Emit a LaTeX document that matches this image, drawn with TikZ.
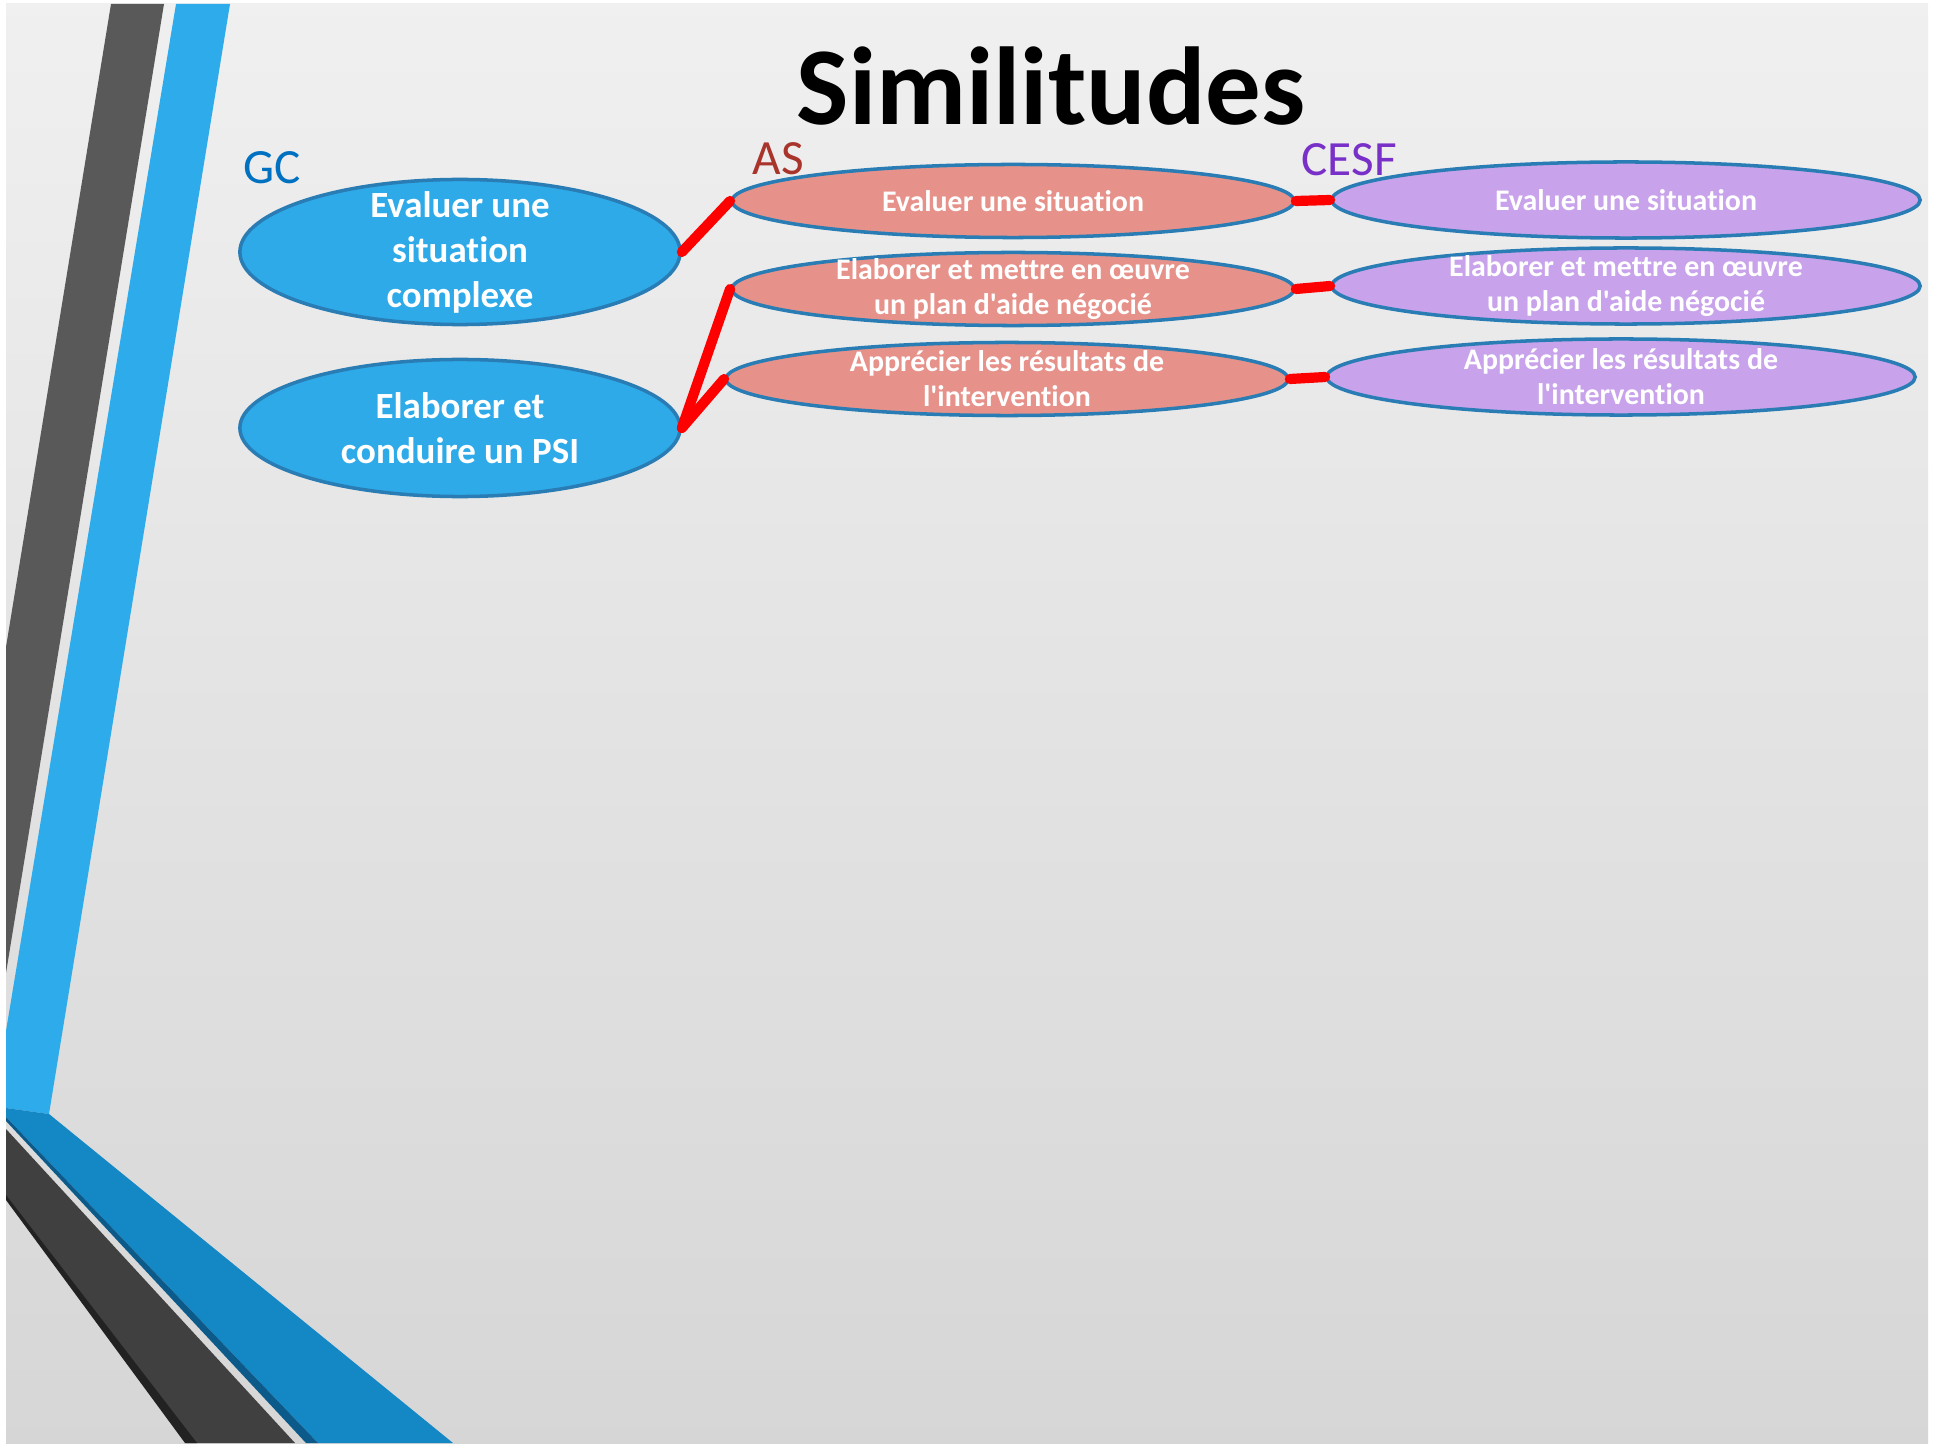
\documentclass[tikz,border=0pt]{standalone}
\usepackage{fontspec}
\setmainfont{Carlito}[Ligatures={TeXOff,NoCommon}]
\usepackage{tikz}
\usetikzlibrary{shapes.geometric,positioning}

\definecolor{gcblue}{RGB}{46,170,233}
\definecolor{rimblue}{RGB}{41,125,180}
\definecolor{assalmon}{RGB}{230,146,138}
\definecolor{cesflilac}{RGB}{200,162,234}
\definecolor{gclabel}{RGB}{0,112,192}
\definecolor{aslabel}{RGB}{169,52,43}
\definecolor{cesflabel}{RGB}{120,48,200}
\definecolor{stripegray}{RGB}{89,89,89}
\definecolor{stripeblue}{RGB}{46,171,234}
\definecolor{bandblue}{RGB}{20,135,197}
\definecolor{bandshade}{RGB}{12,90,138}
\definecolor{banddark}{RGB}{64,64,64}
\definecolor{bandblack}{RGB}{34,34,34}

\begin{document}
\begin{tikzpicture}[x=0.01cm, y=-0.01cm,
    gcbox/.style={ellipse, draw=rimblue, line width=1pt, fill=gcblue,
        minimum width=4.4cm, minimum height=1.45cm, inner sep=0pt},
    asbox/.style={ellipse, draw=rimblue, line width=1pt, fill=assalmon,
        minimum width=5.62cm, minimum height=0.73cm, inner sep=0pt},
    cesfbox/.style={ellipse, draw=rimblue, line width=1pt, fill=cesflilac,
        minimum width=5.88cm, minimum height=0.76cm, inner sep=0pt},
    gctext/.style={text=white, align=center, inner sep=0pt,
        font=\bfseries\fontsize{10.5}{12.8}\selectfont},
    smalltext/.style={text=white, align=center, inner sep=0pt,
        font=\bfseries\fontsize{8.5}{10}\selectfont},
    grouplabel/.style={anchor=base west, inner sep=0pt,
        font=\fontsize{14}{16}\selectfont},
    link/.style={red, line width=2.9pt, line cap=round}]
    \useasboundingbox (0,0) rectangle (1933,1446);
    \fill[white] (0,0) rectangle (1933,1446);
    \shade[top color=black!6, middle color=black!3, bottom color=black!16] (6,4) rectangle (1928,1443);

    % left stripes
    \fill[stripegray] (111,4) -- (164,4) -- (6,973) -- (6,647) -- cycle;
    \fill[stripeblue] (176,4) -- (230,4) -- (49,1114) -- (6,1108) -- (6,1031) -- cycle;
    \fill[bandblue] (6,1108) -- (49,1114) -- (453,1443) -- (318,1443) -- (6,1117) -- cycle;
    \fill[bandshade] (6,1117) -- (318,1443) -- (306,1443) -- (6,1121) -- cycle;
    \fill[banddark] (6,1129) -- (295,1443) -- (186,1443) -- (6,1199) -- cycle;
    \fill[bandblack] (6,1195) -- (197,1443) -- (185,1443) -- (6,1200) -- cycle;

    \node[font=\bfseries\fontsize{31.5}{36}\selectfont, anchor=base, inner sep=0pt] (title) at (1051,125) {Similitudes};

    \node[grouplabel, text=gclabel] (gclab) at (243,184) {GC};
    \node[grouplabel, text=aslabel] (aslab) at (752,175) {AS};
    \node[grouplabel, text=cesflabel] (cesflab) at (1301,176) {CESF};

    % GC
    \node[gcbox, label={[gctext]center:{Evaluer une\\situation\\complexe}}] (gc1) at (460,252) {};
    \node[gcbox, minimum height=1.37cm, label={[gctext]center:{Elaborer et\\conduire un PSI}}] (gc2) at (460,428) {};

    % AS
    \node[asbox, label={[smalltext]center:{Evaluer une situation}}] (as1) at (1013,201) {};
    \node[asbox, label={[smalltext]center:{Elaborer et mettre en œuvre\\un plan d'aide négocié}}] (as2) at (1013,289) {};
    \node[asbox, label={[smalltext]center:{Apprécier les résultats de\\l'intervention}}] (as3) at (1007,379) {};

    % CESF
    \node[cesfbox, label={[smalltext]center:{Evaluer une situation}}] (cesf1) at (1626,200) {};
    \node[cesfbox, label={[smalltext]center:{Elaborer et mettre en œuvre\\un plan d'aide négocié}}] (cesf2) at (1626,286) {};
    \node[cesfbox, label={[smalltext]center:{Apprécier les résultats de\\l'intervention}}] (cesf3) at (1621,377) {};

    \draw[link] (gc1.east) -- (as1.west);
    \draw[link] (gc2.east) -- (as2.west);
    \draw[link] (gc2.east) -- (as3.west);
    \draw[link] (as1.east) -- (cesf1.west);
    \draw[link] (as2.east) -- (cesf2.west);
    \draw[link] (as3.east) -- (cesf3.west);
\end{tikzpicture}
\end{document}
